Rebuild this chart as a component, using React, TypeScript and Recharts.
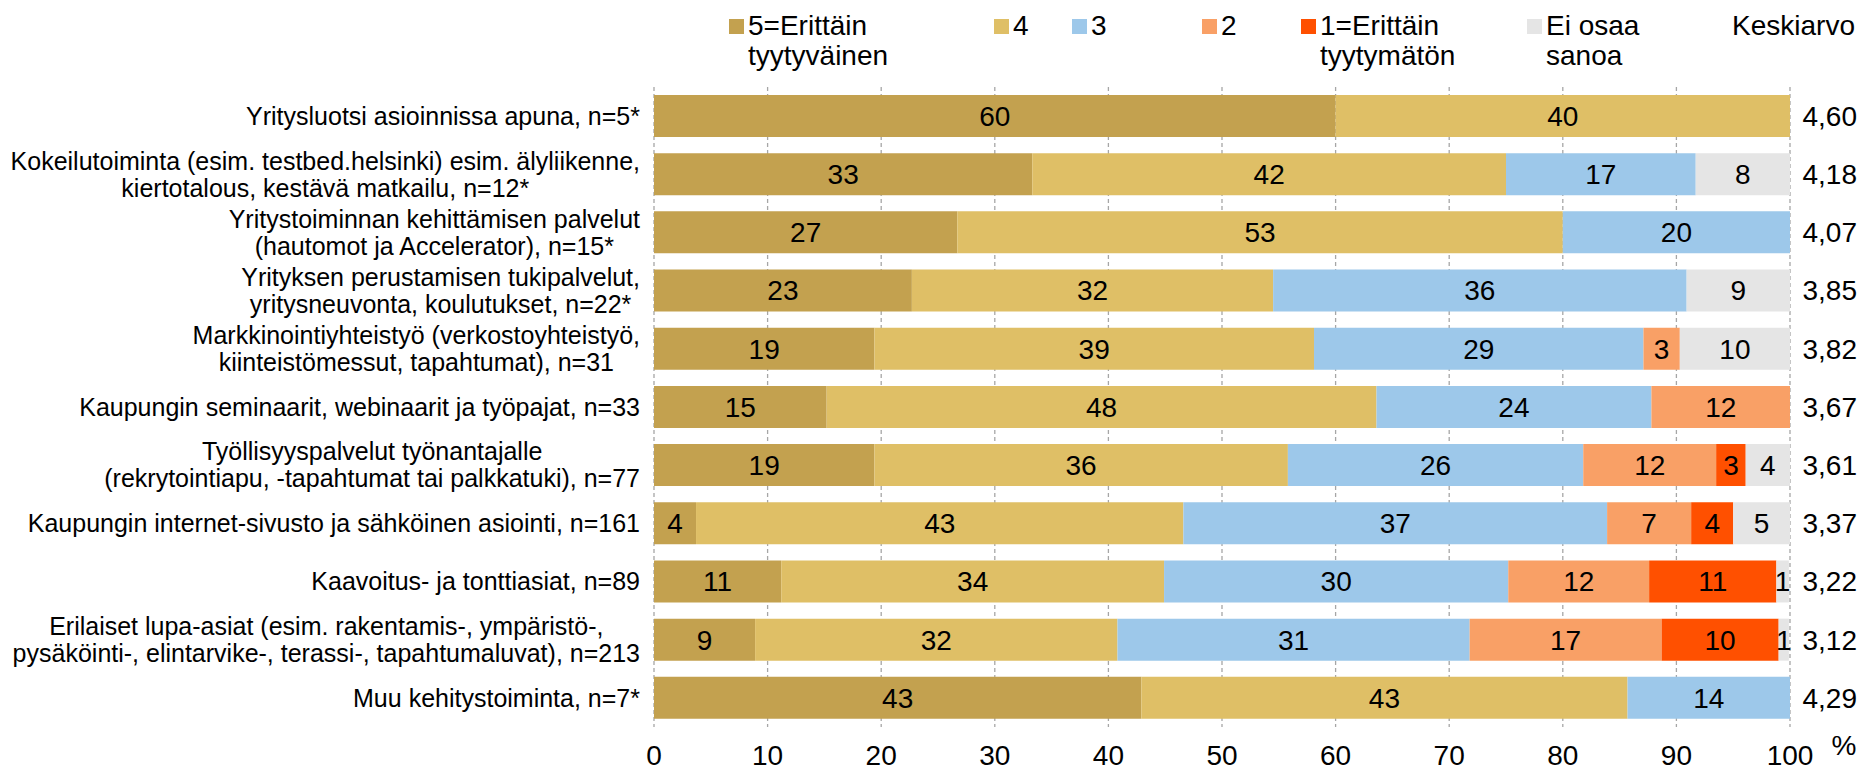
import React from "react";
import { BarChart, Bar, XAxis, YAxis, CartesianGrid, LabelList, Legend } from "recharts";

// rows top to bottom, "\n" marks a wrapped line
const CATEGORIES = [
  "Yritysluotsi asioinnissa apuna, n=5*",
  "Kokeilutoiminta (esim. testbed.helsinki) esim. älyliikenne,\nkiertotalous, kestävä matkailu, n=12*",
  "Yritystoiminnan kehittämisen palvelut\n(hautomot ja Accelerator), n=15*",
  "Yrityksen perustamisen tukipalvelut,\nyritysneuvonta, koulutukset, n=22*",
  "Markkinointiyhteistyö (verkostoyhteistyö,\nkiinteistömessut, tapahtumat), n=31",
  "Kaupungin seminaarit, webinaarit ja työpajat, n=33",
  "Työllisyyspalvelut työnantajalle\n(rekrytointiapu, -tapahtumat tai palkkatuki), n=77",
  "Kaupungin internet-sivusto ja sähköinen asiointi, n=161",
  "Kaavoitus- ja tonttiasiat, n=89",
  "Erilaiset lupa-asiat (esim. rakentamis-, ympäristö-,\npysäköinti-, elintarvike-, terassi-, tapahtumaluvat), n=213",
  "Muu kehitystoiminta, n=7*",
];

const VERY_SATISFIED = [60, 33.3, 26.7, 22.7, 19.4, 15.2, 19.4, 3.7, 11.2, 8.9, 42.9];
const SATISFIED = [40, 41.7, 53.3, 31.8, 38.7, 48.4, 36.4, 42.9, 33.7, 31.9, 42.8];
const NEUTRAL = [0, 16.7, 20, 36.4, 29.0, 24.2, 26.0, 37.3, 30.3, 31.0, 14.3];
const DISSATISFIED = [0, 0, 0, 0, 3.2, 12.2, 11.7, 7.4, 12.4, 16.9, 0];
const VERY_DISSATISFIED = [0, 0, 0, 0, 0, 0, 2.6, 3.7, 11.2, 10.3, 0];
const DONT_KNOW = [0, 8.3, 0, 9.1, 9.7, 0, 3.9, 5.0, 1.1, 0.9, 0];
const AVERAGES = ["4,60", "4,18", "4,07", "3,85", "3,82", "3,67", "3,61", "3,37", "3,22", "3,12", "4,29"];

const X_TICKS = [0, 10, 20, 30, 40, 50, 60, 70, 80, 90, 100];

const SERIES = [
  { key: "v5", name: "5=Erittäin\ntyytyväinen", color: "#C3A14F" },
  { key: "v4", name: "4", color: "#DFBF66" },
  { key: "v3", name: "3", color: "#9DC8EA" },
  { key: "v2", name: "2", color: "#F9A066" },
  { key: "v1", name: "1=Erittäin\ntyytymätön", color: "#FF5000" },
  { key: "eos", name: "Ei osaa\nsanoa", color: "#E5E5E5" },
];
const LEGEND_X = [729, 994, 1072, 1202, 1301, 1527];

const data = CATEGORIES.map((name, i) => ({
  name,
  v5: VERY_SATISFIED[i],
  v4: SATISFIED[i],
  v3: NEUTRAL[i],
  v2: DISSATISFIED[i],
  v1: VERY_DISSATISFIED[i],
  eos: DONT_KNOW[i],
  avg: AVERAGES[i],
}));

const FONT = '"Liberation Sans", Arial, sans-serif';
const FS = 25; // category labels
const FS_NUM = 28; // values, averages, ticks
const FS_LEG = 28;

let ctx: CanvasRenderingContext2D | null = null;
function textWidth(s: string) {
  if (!ctx) ctx = document.createElement("canvas").getContext("2d");
  if (!ctx) return s.length * FS * 0.5;
  ctx.font = `${FS}px "Liberation Sans"`;
  return ctx.measureText(s).width;
}

function CategoryTick(props: any) {
  const { y, payload } = props;
  const lines: string[] = String(payload.value).split("\n");
  const block = Math.max(...lines.map(textWidth));
  const cx = 640 - block / 2;
  const lh = 27;
  const y0 = y - ((lines.length - 1) * lh) / 2;
  return (
    <text textAnchor="middle" fontSize={FS} fill="#000" fontFamily={FONT}>
      {lines.map((l, i) => (
        <tspan key={i} x={cx} y={y0 + i * lh} dy="0.35em">
          {l}
        </tspan>
      ))}
    </text>
  );
}

function AvgTick(props: any) {
  const { y, payload } = props;
  return (
    <text x={1857} y={y} dy="0.35em" textAnchor="end" fontSize={FS_NUM} fill="#000" fontFamily={FONT}>
      {payload.value}
    </text>
  );
}

function PercentTick(props: any) {
  const { x, payload } = props;
  return (
    <g>
      <text x={x} y={765} textAnchor="middle" fontSize={FS_NUM} fill="#000" fontFamily={FONT}>
        {payload.value}
      </text>
      {payload.value === 100 && (
        <text x={1844} y={755} textAnchor="middle" fontSize={FS_NUM} fill="#000" fontFamily={FONT}>
          %
        </text>
      )}
    </g>
  );
}

function renderLegend(props: any) {
  const order = SERIES.map((s) => s.key);
  const items = [...(props.payload || [])].sort(
    (a: any, b: any) => order.indexOf(a.dataKey) - order.indexOf(b.dataKey)
  );
  return (
    <div style={{ position: "relative", width: 1863, height: 80, fontFamily: FONT, fontSize: FS_LEG, color: "#000" }}>
      {items.map((it: any, i: number) => (
        <div key={i} style={{ position: "absolute", left: LEGEND_X[i], top: 11, display: "flex" }}>
          <span style={{ width: 15, height: 15, background: it.color, marginTop: 8, marginRight: 4, flex: "none" }} />
          <span style={{ whiteSpace: "pre-line", lineHeight: "30px" }}>{it.value}</span>
        </div>
      ))}
      <div style={{ position: "absolute", right: 8, top: 11, lineHeight: "30px" }}>Keskiarvo</div>
    </div>
  );
}

const fmt = (v: any) => (Number(v) > 0 ? Math.round(Number(v)) : "");

export default function App() {
  return (
    <div style={{ position: "absolute", left: 0, top: 0, width: 1863, height: 771, background: "#fff", fontFamily: FONT }}>
      <BarChart
        width={1863}
        height={771}
        data={data}
        layout="vertical"
        margin={{ top: 87, right: 0, bottom: 0, left: 0 }}
      >
        <CartesianGrid horizontal={false} stroke="#A6A6A6" strokeDasharray="4 3" strokeWidth={1.3} />
        <XAxis
          type="number"
          domain={[0, 100]}
          ticks={X_TICKS}
          allowDataOverflow
          axisLine={false}
          tickLine={false}
          height={44}
          tick={<PercentTick />}
        />
        <YAxis yAxisId="cat" type="category" dataKey="name" width={654} axisLine={false} tickLine={false} tick={<CategoryTick />} />
        <YAxis yAxisId="avg" orientation="right" type="category" dataKey="avg" width={73} axisLine={false} tickLine={false} tick={<AvgTick />} />
        <Legend
          layout="horizontal"
          verticalAlign="middle"
          align="center"
          content={renderLegend}
          wrapperStyle={{ top: 0, left: 0, width: 1863, height: 80 }}
        />
        {SERIES.map((s) => (
          <Bar
            key={s.key}
            dataKey={s.key}
            name={s.name}
            stackId="a"
            yAxisId="cat"
            fill={s.color}
            barSize={42}
            isAnimationActive={false}
          >
            <LabelList dataKey={s.key} position="center" formatter={fmt} fill="#000" fontSize={FS_NUM} fontFamily={FONT} />
          </Bar>
        ))}
      </BarChart>
    </div>
  );
}
